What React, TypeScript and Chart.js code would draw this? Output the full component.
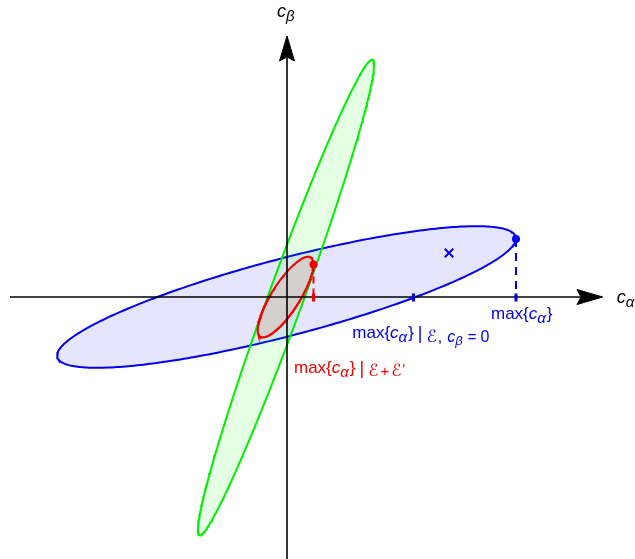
import React, { useEffect, useRef } from "react";
import { Chart, registerables } from "chart.js";

Chart.register(...registerables);

// Ellipse parameters: [centerX, centerY, semiMajor, semiMinor, angleDeg]
const blueEllipse = [-0.005, 0, 2.37, 0.386, 14.7];
const greenEllipse = [-0.01, -0.005, 2.53, 0.175, 70];
const redEllipse = [-0.015, 0, 0.47, 0.14, 57.5];

// Marked points [x, y]
const blueMaxPoint = [2.29, 0.58];
const redMaxPoint = [0.265, 0.325];
const blueZeroCrossing = [1.265, 0];
const crossMarker = [1.62, 0.44];

// Axes: [start, arrowBase, arrowTip]
const xAxisExtent = [-2.77, 2.9, 3.157];
const yAxisExtent = [-2.62, 2.36, 2.61];

// Texts
const xAxisLabel = ["c", "α"];
const yAxisLabel = ["c", "β"];
const blueMaxLabel = ["max{", "c", "α", "}"];
const blueCondLabel = ["max{", "c", "α", "}", "|", "ℰ", ",", "c", "β", "=", "0"];
const redCondLabel = ["max{", "c", "α", "}", "|", "ℰ", "+", "ℰ", "'"];

const X_MIN = -2.87;
const X_MAX = 3.48;
const Y_MIN = -2.62;
const Y_MAX = 2.97;

function ellipsePoints(p: number[], n = 360) {
  const [cx, cy, a, b, deg] = p;
  const th = (deg * Math.PI) / 180;
  const pts: { x: number; y: number }[] = [];
  for (let i = 0; i <= n; i++) {
    const t = (2 * Math.PI * i) / n;
    const ex = a * Math.cos(t);
    const ey = b * Math.sin(t);
    pts.push({
      x: cx + ex * Math.cos(th) - ey * Math.sin(th),
      y: cy + ex * Math.sin(th) + ey * Math.cos(th),
    });
  }
  return pts;
}

type Seg = { t: string; size: number; italic?: boolean; dy?: number; gap?: number; family?: string };

const FONT = '"Liberation Sans", Arial, Helvetica, sans-serif';
const SCRIPT_FONT = '"DejaVu Sans", "Liberation Sans", sans-serif';

function drawRich(ctx: CanvasRenderingContext2D, x: number, y: number, segs: Seg[], color: string) {
  let cx = x;
  ctx.save();
  ctx.fillStyle = color;
  ctx.textAlign = "left";
  ctx.textBaseline = "alphabetic";
  for (const s of segs) {
    cx += s.gap || 0;
    ctx.font = `${s.italic ? "italic " : ""}${s.size}px ${s.family || FONT}`;
    ctx.fillText(s.t, cx, y + (s.dy || 0));
    cx += ctx.measureText(s.t).width;
  }
  ctx.restore();
}

const BLUE = "#0000f0";
const GREEN = "#00ee00";
const RED = "#f00000";

const maxSegs = (lab: string[]): Seg[] => [
  { t: lab[0], size: 17 },
  { t: lab[1], size: 17, italic: true },
  { t: lab[2], size: 15, italic: true, dy: 4 },
  { t: lab[3], size: 17, gap: 1 },
];

const labelPlugin = {
  id: "labels",
  afterDatasetsDraw(chart: any) {
    const ctx = chart.ctx as CanvasRenderingContext2D;
    const xs = chart.scales.x;
    const ys = chart.scales.y;
    const px = (v: number) => xs.getPixelForValue(v);
    const py = (v: number) => ys.getPixelForValue(v);

    // axis labels
    drawRich(ctx, px(3.297), py(-0.063), [
      { t: xAxisLabel[0], size: 18, italic: true },
      { t: xAxisLabel[1], size: 15, italic: true, dy: 4 },
    ], "#000");
    drawRich(ctx, px(-0.1), py(2.803), [
      { t: yAxisLabel[0], size: 18, italic: true },
      { t: yAxisLabel[1], size: 15, italic: true, dy: 4.3 },
    ], "#000");

    // blue max label
    drawRich(ctx, px(2.04), py(-0.22), maxSegs(blueMaxLabel), BLUE);

    // blue conditional label
    drawRich(ctx, px(0.653), py(-0.413), [
      ...maxSegs(blueCondLabel),
      { t: blueCondLabel[4], size: 18, gap: 4, dy: 1 },
      { t: blueCondLabel[5], size: 17, gap: 4, dy: 3.5, family: SCRIPT_FONT },
      { t: blueCondLabel[6], size: 16, gap: 1, dy: 3.5 },
      { t: blueCondLabel[7], size: 16, italic: true, gap: 5, dy: 3.5 },
      { t: blueCondLabel[8], size: 13, italic: true, dy: 7 },
      { t: blueCondLabel[9], size: 15, gap: 5, dy: 3.5 },
      { t: blueCondLabel[10], size: 16, gap: 4, dy: 3.5 },
    ], BLUE);

    // red conditional label
    drawRich(ctx, px(0.07), py(-0.757), [
      ...maxSegs(redCondLabel),
      { t: redCondLabel[4], size: 18, gap: 4, dy: 1 },
      { t: redCondLabel[5], size: 17, gap: 4, dy: 3.5, family: SCRIPT_FONT },
      { t: redCondLabel[6], size: 15, gap: 2, dy: 3.5 },
      { t: redCondLabel[7], size: 17, gap: 2, dy: 3.5, family: SCRIPT_FONT },
      { t: redCondLabel[8], size: 14, gap: 1, dy: 1.5 },
    ], RED);
  },
};

export default function App() {
  const ref = useRef<HTMLCanvasElement | null>(null);

  useEffect(() => {
    document.body.style.margin = "0";
    const canvas = ref.current;
    if (!canvas) return;

    const [xs, xb, xt] = xAxisExtent;
    const [ys, yb, yt] = yAxisExtent;
    const aw = 0.075;
    const notch = 0.04;
    const tickTop = 0.035;
    const tickBottom = -0.045;

    const line = (data: any[], color: string, width: number, order: number, extra: any = {}) => ({
      data,
      showLine: true,
      borderColor: color,
      borderWidth: width,
      pointRadius: 0,
      fill: false,
      order,
      ...extra,
    });

    const chart = new Chart(canvas, {
      type: "scatter",
      data: {
        datasets: [
          line(ellipsePoints(blueEllipse), BLUE, 2, 20, {
            fill: "shape",
            backgroundColor: "rgba(0,0,255,0.10)",
          }),
          line(ellipsePoints(greenEllipse), GREEN, 2, 19, {
            fill: "shape",
            backgroundColor: "rgba(0,255,0,0.10)",
          }),
          line(ellipsePoints(redEllipse), RED, 2, 18, {
            fill: "shape",
            backgroundColor: "rgba(255,0,0,0.10)",
          }),
          line([{ x: xs, y: 0 }, { x: xb + 0.03, y: 0 }], "#000", 1.6, 15),
          line([{ x: 0, y: ys }, { x: 0, y: yb + 0.03 }], "#000", 1.6, 15),
          line(
            [
              { x: xt, y: 0 },
              { x: xb, y: aw },
              { x: xb + notch, y: 0 },
              { x: xb, y: -aw },
              { x: xt, y: 0 },
            ],
            "#000",
            1,
            14,
            { fill: "shape", backgroundColor: "#000" }
          ),
          line(
            [
              { x: 0, y: yt },
              { x: -aw, y: yb },
              { x: 0, y: yb + notch },
              { x: aw, y: yb },
              { x: 0, y: yt },
            ],
            "#000",
            1,
            14,
            { fill: "shape", backgroundColor: "#000" }
          ),
          line(
            [{ x: blueMaxPoint[0], y: blueMaxPoint[1] }, { x: blueMaxPoint[0], y: 0 }],
            BLUE,
            2,
            10,
            { borderDash: [8, 6] }
          ),
          line(
            [{ x: redMaxPoint[0], y: redMaxPoint[1] }, { x: redMaxPoint[0], y: 0 }],
            RED,
            2,
            10,
            { borderDash: [7, 5] }
          ),
          line(
            [{ x: blueZeroCrossing[0], y: tickTop }, { x: blueZeroCrossing[0], y: tickBottom }],
            BLUE,
            3,
            9
          ),
          line(
            [{ x: blueMaxPoint[0], y: tickTop }, { x: blueMaxPoint[0], y: tickBottom }],
            BLUE,
            3,
            9
          ),
          line(
            [{ x: redMaxPoint[0], y: tickTop }, { x: redMaxPoint[0], y: tickBottom }],
            RED,
            3,
            9
          ),
          {
            data: [{ x: blueMaxPoint[0], y: blueMaxPoint[1] }],
            pointRadius: 4,
            pointBackgroundColor: BLUE,
            pointBorderColor: BLUE,
            pointBorderWidth: 0,
            order: 5,
          },
          {
            data: [{ x: redMaxPoint[0], y: redMaxPoint[1] }],
            pointRadius: 4,
            pointBackgroundColor: RED,
            pointBorderColor: RED,
            pointBorderWidth: 0,
            order: 5,
          },
          {
            data: [{ x: crossMarker[0], y: crossMarker[1] }],
            pointStyle: "crossRot",
            pointRadius: 6,
            pointBorderColor: BLUE,
            pointBorderWidth: 2,
            order: 4,
          },
        ],
      },
      options: {
        animation: false,
        responsive: false,
        maintainAspectRatio: false,
        devicePixelRatio: 1,
        events: [],
        layout: { padding: 0, autoPadding: false },
        plugins: {
          legend: { display: false },
          tooltip: { enabled: false },
          title: { display: false },
        },
        elements: { line: { tension: 0 } },
        scales: {
          x: { type: "linear", min: X_MIN, max: X_MAX, display: false },
          y: { type: "linear", min: Y_MIN, max: Y_MAX, display: false },
        },
      } as any,
      plugins: [labelPlugin],
    });

    return () => chart.destroy();
  }, []);

  return (
    <div style={{ width: 635, height: 559, background: "#fff" }}>
      <canvas ref={ref} width={635} height={559} style={{ display: "block", width: 635, height: 559 }} />
    </div>
  );
}
